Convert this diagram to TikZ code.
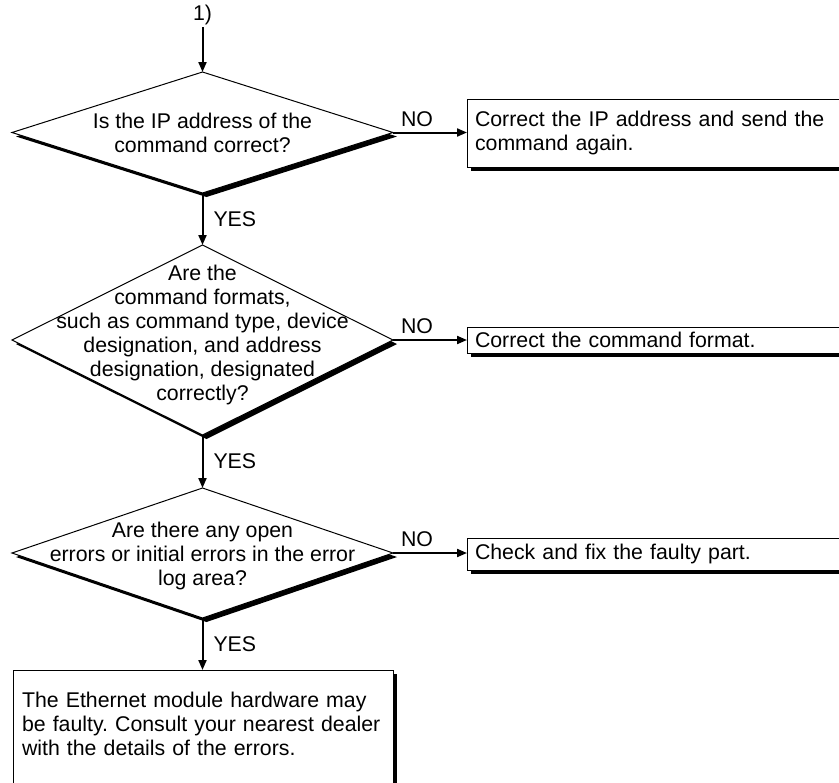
\documentclass[tikz,border=0pt]{standalone}
\usepackage{fontspec}
\setmainfont{Liberation Sans}
\usetikzlibrary{shapes.geometric, shadows, arrows.meta}

\tikzset{
  castshadow/.style={drop shadow={shadow xshift=2pt, shadow yshift=-2pt, opacity=1, fill=black}},
  decision/.style={diamond, draw, fill=white, line width=0.5pt, inner sep=0pt, outer sep=0pt, minimum width=190.5pt, castshadow},
  qtext/.style={align=center, inner sep=0pt},
  action/.style={rectangle, draw, fill=white, line width=0.5pt, align=left, inner xsep=4pt, inner ysep=0pt, outer sep=0pt, castshadow},
  answer/.style={inner sep=0pt},
}

\begin{document}
\begin{tikzpicture}[x=0.5pt, y=-0.5pt, font=\fontsize{10.65pt}{12pt}\selectfont\frenchspacing,
    >={Triangle[length=5pt,width=4pt]}, flow/.style={->, line width=1pt}]

    \useasboundingbox (0,0) rectangle (839,782);
    \clip (0,0) rectangle (839,782);

    % --- Entry point ---
    \node[answer, inner sep=1pt] (start) at (202.5,15) {1)};

    % --- Check 1: IP address ---
    \node[decision, minimum height=60.5pt] (ipchk) at (202.5,132.5) {};
    \node[qtext] (ipq) at (ipchk) {Is the IP address of the\\command correct?};
    \node[action, anchor=west, text width=182pt, minimum height=34pt] (fixip) at (467,133)
        {Correct the IP address and send the\\command again.};

    % --- Check 2: command format ---
    \node[decision, minimum height=95pt] (fmtchk) at (202.5,340) {};
    \node[qtext] (fmtq) at (202.5,335) {Are the\\command formats,\\such as command type, device\\designation, and address\\designation, designated\\correctly?};
    \node[action, anchor=west, text width=182pt, minimum height=13pt] (fixfmt) at (467,340)
        {Correct the command format.};

    % --- Check 3: error log area ---
    \node[decision, minimum height=65pt] (errchk) at (202.5,553) {};
    \node[qtext] (errq) at (202.5,556) {Are there any open\\errors or initial errors in the error\\log area?};
    \node[action, anchor=west, text width=182pt, minimum height=16pt] (fixpart) at (467,554)
        {Check and fix the faulty part.};

    % --- Last step: hardware ---
    \node[action, anchor=north west, text width=181pt, inner xsep=4.5pt, inner ysep=11pt, text depth=70pt] (hwfault) at (13,670)
        {The Ethernet module hardware may\\be faulty. Consult your nearest dealer\\with the details of the errors.};

    % --- Connectors ---
    \draw[flow] (start.south) -- (ipchk.north);
    \draw[flow] (ipchk.east) -- (ipchk.east -| fixip.west)
        node[answer, pos=0, anchor=south west, xshift=3.5pt, yshift=2.5pt] {NO};
    \draw[flow] (ipchk.south) -- (fmtchk.north)
        node[answer, midway, anchor=west, xshift=5pt] {YES};
    \draw[flow] (fmtchk.east) -- (fmtchk.east -| fixfmt.west)
        node[answer, pos=0, anchor=south west, xshift=3.5pt, yshift=2.5pt] {NO};
    \draw[flow] (fmtchk.south) -- (errchk.north)
        node[answer, midway, anchor=west, xshift=5pt] {YES};
    \draw[flow] (errchk.east) -- (errchk.east -| fixpart.west)
        node[answer, pos=0, anchor=south west, xshift=3.5pt, yshift=2.5pt] {NO};
    \draw[flow] (errchk.south) -- (errchk.south |- hwfault.north)
        node[answer, midway, anchor=west, xshift=5pt] {YES};

\end{tikzpicture}
\end{document}
